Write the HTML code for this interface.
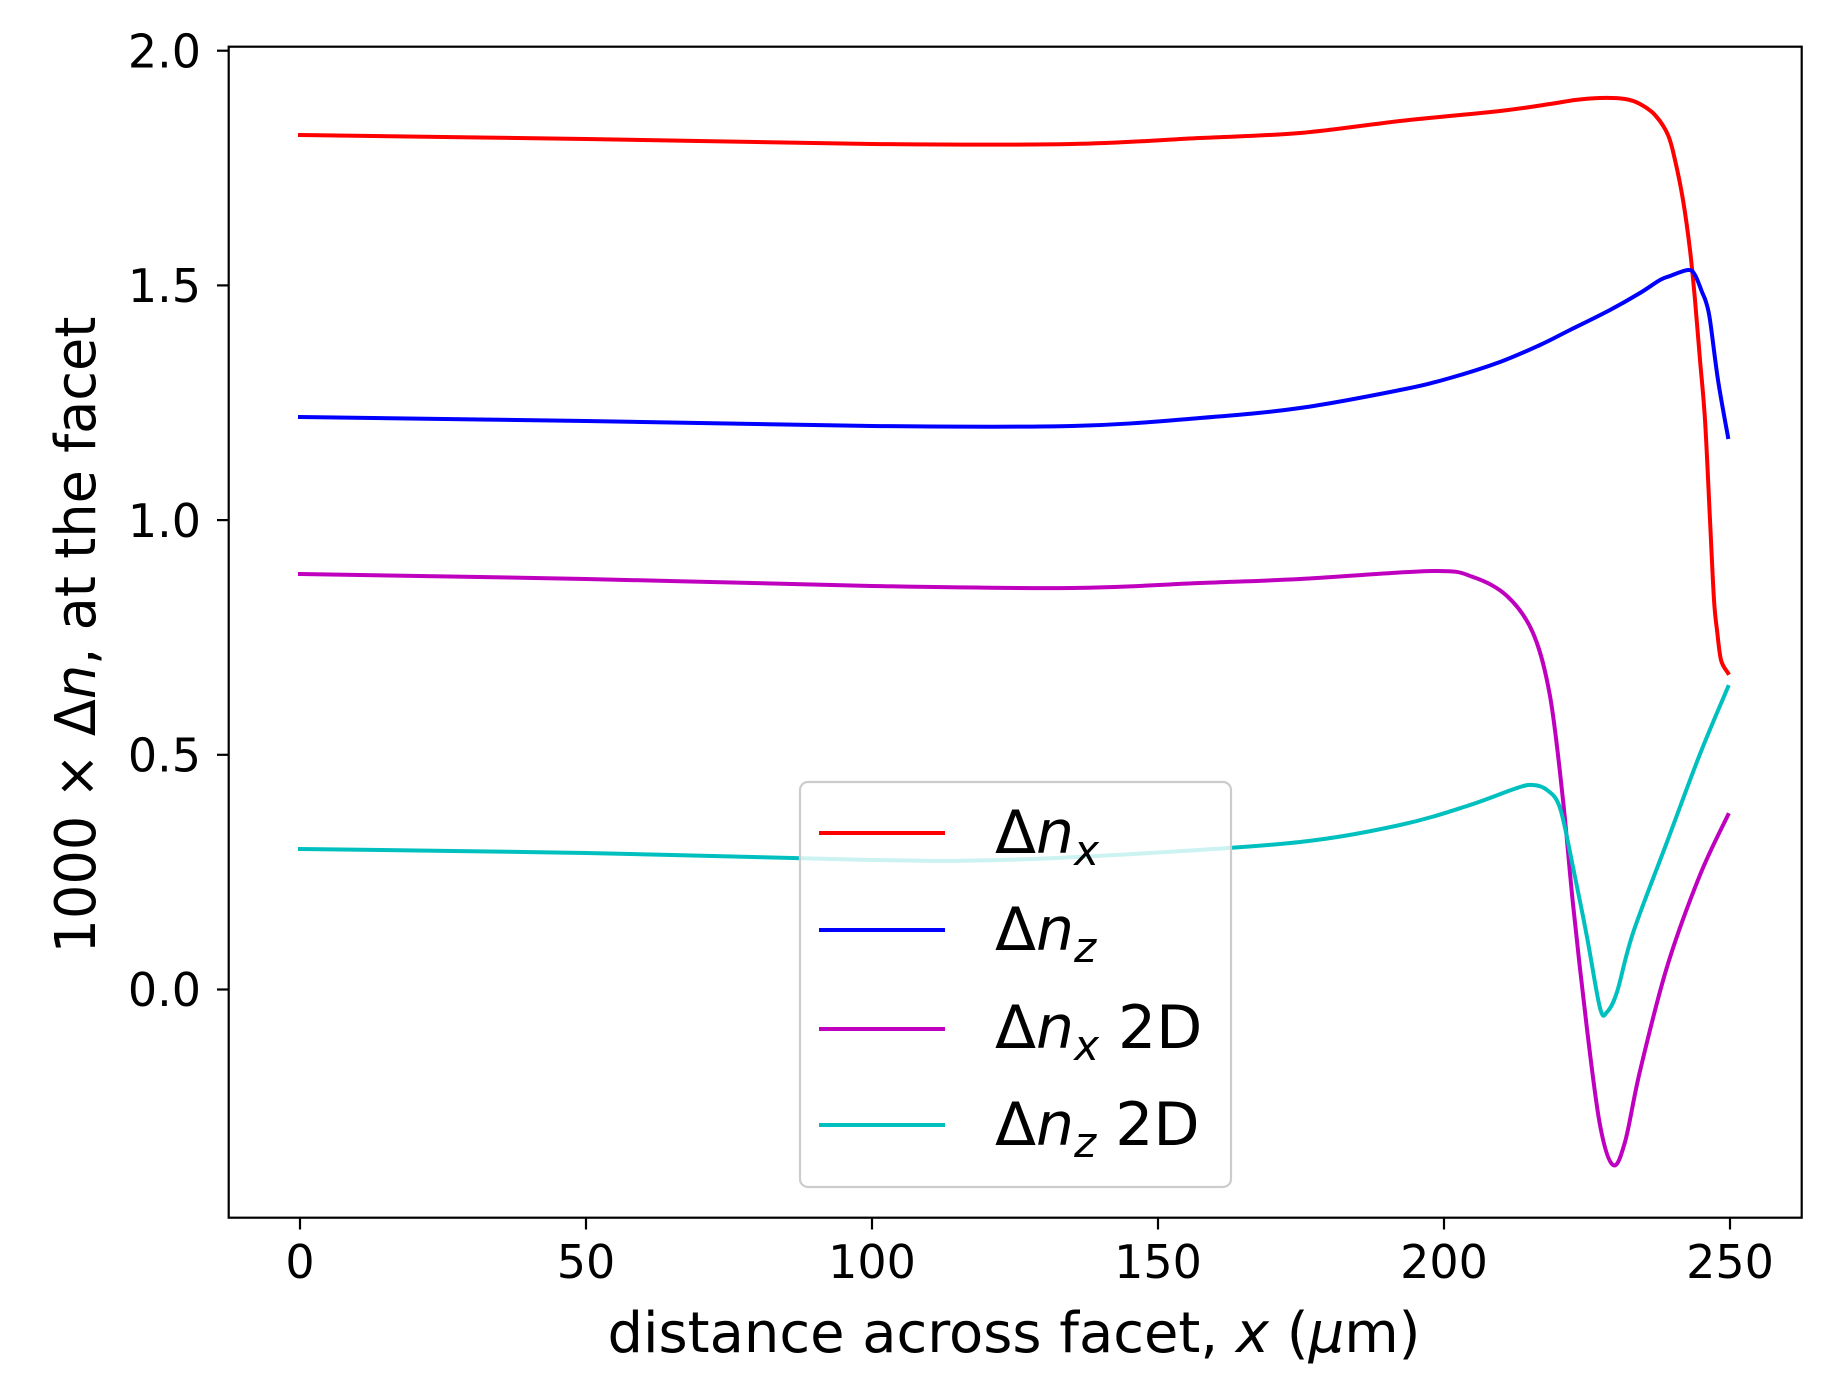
<!DOCTYPE html>
<html><head><meta charset="utf-8"><style>
html,body{margin:0;padding:0;background:#fff;}
svg{display:block;}
text{font-family:"DejaVu Sans","Liberation Sans",sans-serif;fill:#000;}
</style></head><body>
<svg id="s" width="1848" height="1390" viewBox="0 0 1848 1390" xmlns="http://www.w3.org/2000/svg">
<rect width="1848" height="1390" fill="#fff"/>
<g id="lines" fill="none" stroke-width="4" stroke-linejoin="round" stroke-linecap="square"></g>
<rect x="228.7" y="46.7" width="1573" height="1171" fill="none" stroke="#000" stroke-width="2.2"/>
<g stroke="#000" stroke-width="2.2">
<line x1="217" y1="50.7" x2="228.7" y2="50.7"/>
<line x1="217" y1="285.4" x2="228.7" y2="285.4"/>
<line x1="217" y1="520.1" x2="228.7" y2="520.1"/>
<line x1="217" y1="754.8" x2="228.7" y2="754.8"/>
<line x1="217" y1="989.5" x2="228.7" y2="989.5"/>
<line x1="300" y1="1217.7" x2="300" y2="1229.5"/>
<line x1="586" y1="1217.7" x2="586" y2="1229.5"/>
<line x1="872" y1="1217.7" x2="872" y2="1229.5"/>
<line x1="1158" y1="1217.7" x2="1158" y2="1229.5"/>
<line x1="1444" y1="1217.7" x2="1444" y2="1229.5"/>
<line x1="1730" y1="1217.7" x2="1730" y2="1229.5"/>
</g>
<g font-size="46" text-anchor="end">
<text x="201" y="67.5">2.0</text>
<text x="201" y="302">1.5</text>
<text x="201" y="537">1.0</text>
<text x="201" y="771.5">0.5</text>
<text x="201" y="1006">0.0</text>
</g>
<g font-size="46" text-anchor="middle">
<text x="300" y="1278">0</text>
<text x="586" y="1278">50</text>
<text x="872" y="1278">100</text>
<text x="1158" y="1278">150</text>
<text x="1444" y="1278">200</text>
<text x="1730" y="1278">250</text>
</g>
<text x="1014" y="1352" font-size="56" text-anchor="middle" textLength="813" lengthAdjust="spacingAndGlyphs">distance across facet, <tspan font-style="italic">x</tspan> (<tspan font-style="italic">μ</tspan>m)</text>
<text transform="translate(95,635) rotate(-90)" font-size="56" text-anchor="middle" textLength="637" lengthAdjust="spacingAndGlyphs">1000 × Δ<tspan font-style="italic">n</tspan>, at the facet</text>
<rect x="800" y="782" width="431" height="405" rx="8" fill="#fff" fill-opacity="0.8" stroke="#ccc" stroke-width="2.2"/>
<g stroke-width="4">
<line x1="819" y1="833" x2="945" y2="833" stroke="#ff0000"/>
<line x1="819" y1="930" x2="945" y2="930" stroke="#0000ff"/>
<line x1="819" y1="1029" x2="945" y2="1029" stroke="#bf00bf"/>
<line x1="819" y1="1125" x2="945" y2="1125" stroke="#00bfbf"/>
</g>
<g font-size="60">
<text x="995" y="853">Δ<tspan font-style="italic">n</tspan><tspan font-style="italic" font-size="42" dy="12">x</tspan></text>
<text x="995" y="950">Δ<tspan font-style="italic">n</tspan><tspan font-style="italic" font-size="42" dy="12">z</tspan></text>
<text x="995" y="1048">Δ<tspan font-style="italic">n</tspan><tspan font-style="italic" font-size="42" dy="12">x</tspan><tspan dy="-12"> 2D</tspan></text>
<text x="995" y="1145">Δ<tspan font-style="italic">n</tspan><tspan font-style="italic" font-size="42" dy="12">z</tspan><tspan dy="-12"> 2D</tspan></text>
</g>
</svg>
<script>
var series=[
["#ff0000",[[300,135],[586,139],[872,144],[1072,144],[1200,138],[1300,133],[1400,121],[1500,111],[1550,104],[1575,100],[1600,98],[1625,99],[1640,104],[1655,115],[1668,135],[1675,160],[1683,200],[1690,250],[1695,300],[1700,360],[1705,420],[1710,520],[1714,600],[1717,630],[1721,660],[1728,673]]],
["#0000ff",[[300,417],[586,421],[872,426],[1072,426],[1200,418],[1300,408],[1400,390],[1450,378],[1500,362],[1540,345],[1570,330],[1610,310],[1640,293],[1660,280],[1670,276],[1688,270],[1695,275],[1702,292],[1706,302],[1710,320],[1718,380],[1728,437]]],
["#bf00bf",[[300,574],[586,579],[872,586],[1072,588],[1200,583],[1300,579],[1433,571],[1473,577],[1507,596],[1533,633],[1550,696],[1563,800],[1573,904],[1587,1029],[1600,1125],[1613,1165],[1625,1142],[1640,1071],[1667,967],[1700,875],[1728,815]]],
["#00bfbf",[[300,849],[586,853],[872,860],[1000,860],[1150,853],[1300,842],[1400,825],[1467,806],[1517,788],[1533,785],[1547,790],[1560,808],[1573,867],[1587,937],[1600,1008],[1607,1012],[1617,992],[1633,933],[1667,842],[1700,754],[1728,687]]]
];
var g=document.getElementById('lines');
series.forEach(function(s){
 var p=s[1],d="M"+p[0][0]+","+p[0][1];
 for(var i=0;i<p.length-1;i++){
  var p0=p[i-1]||p[i],p1=p[i],p2=p[i+1],p3=p[i+2]||p2;
  var c1x=p1[0]+(p2[0]-p0[0])/6,c1y=p1[1]+(p2[1]-p0[1])/6;
  var c2x=p2[0]-(p3[0]-p1[0])/6,c2y=p2[1]-(p3[1]-p1[1])/6;
  d+=" C"+c1x.toFixed(1)+","+c1y.toFixed(1)+" "+c2x.toFixed(1)+","+c2y.toFixed(1)+" "+p2[0]+","+p2[1];
 }
 var e=document.createElementNS("http://www.w3.org/2000/svg","path");
 e.setAttribute("d",d);e.setAttribute("stroke",s[0]);g.appendChild(e);
});
</script>
</body></html>
